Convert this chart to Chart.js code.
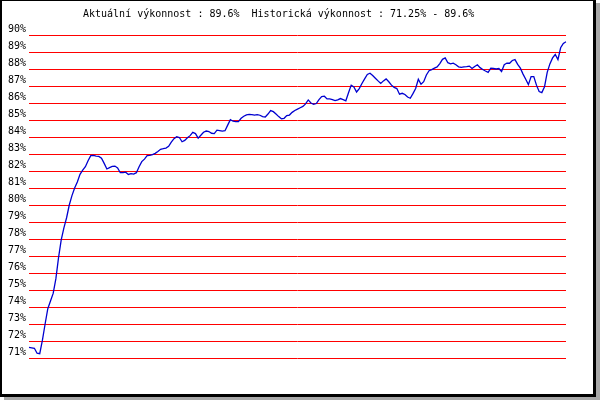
<!DOCTYPE html>
<html>
<head>
<meta charset="utf-8">
<script src="https://cdn.jsdelivr.net/npm/chart.js@4.4.1/dist/chart.umd.min.js"></script>
<style>
  html, body { margin: 0; padding: 0; background: #fff; }
  #wrap { position: relative; width: 600px; height: 400px; overflow: hidden; }
  #frame {
    position: absolute; left: 0; top: 0;
    width: 596px; height: 397px; box-sizing: border-box;
    border-style: solid; border-color: #000;
    border-width: 1px 3px 3px 2px;
    background: #fff;
    box-shadow: 4px 3px 0 #a8a8a8;
  }
  #chart { position: absolute; left: 0; top: 0; }
</style>
</head>
<body>
<div id="wrap">
  <div id="frame"></div>
  <canvas id="chart" width="600" height="400"></canvas>
</div>
<script>
// performance values in %, one per period
var performance = [
  71.63, 71.6, 71.57, 71.28, 71.25, 72.05, 73.0, 73.9, 74.35, 74.8,
  75.65, 76.9, 77.95, 78.65, 79.25, 80.0, 80.55, 81.0, 81.35, 81.8,
  82.05, 82.25, 82.6, 82.9, 82.92, 82.88, 82.86, 82.75, 82.45, 82.12,
  82.2, 82.27, 82.29, 82.18, 81.9, 81.9, 81.93, 81.8, 81.85, 81.82,
  81.9, 82.25, 82.55, 82.7, 82.9, 82.92, 82.96, 83.04, 83.15, 83.28,
  83.31, 83.35, 83.45, 83.7, 83.9, 84.02, 83.97, 83.72, 83.8, 83.95,
  84.08, 84.27, 84.2, 83.93, 84.1, 84.28, 84.35, 84.32, 84.22, 84.2,
  84.4, 84.38, 84.35, 84.37, 84.7, 85.02, 84.93, 84.9, 84.9, 85.1,
  85.22, 85.3, 85.33, 85.31, 85.29, 85.32, 85.28, 85.2, 85.18, 85.35,
  85.55, 85.49, 85.35, 85.2, 85.07, 85.1, 85.26, 85.29, 85.45, 85.56,
  85.64, 85.72, 85.8, 85.95, 86.18, 86.0, 85.92, 85.97, 86.2, 86.38,
  86.4, 86.24, 86.24, 86.2, 86.14, 86.18, 86.26, 86.2, 86.13, 86.6,
  87.05, 86.95, 86.65, 86.85, 87.15, 87.42, 87.68, 87.75, 87.62, 87.46,
  87.3, 87.15, 87.3, 87.42, 87.25, 87.05, 86.92, 86.85, 86.52, 86.57,
  86.5, 86.35, 86.28, 86.55, 86.85, 87.4, 87.1, 87.25, 87.65, 87.9,
  87.96, 88.05, 88.12, 88.32, 88.57, 88.65, 88.37, 88.3, 88.34, 88.25,
  88.13, 88.1, 88.12, 88.14, 88.17, 88.03, 88.15, 88.25, 88.08, 87.97,
  87.88, 87.8, 88.05, 88.03, 88.0, 88.03, 87.85, 88.25, 88.35, 88.34,
  88.5, 88.55, 88.27, 88.05, 87.7, 87.4, 87.08, 87.55, 87.55, 87.05,
  86.67, 86.61, 86.95, 87.8, 88.3, 88.65, 88.85, 88.55, 89.25, 89.5,
  89.6
];
var periods = performance.map(function (v, i) { return i; });

var currentPerf = '89.6%';
var histMin = '71.25%';
var histMax = '89.6%';
var titleText = 'Aktuální výkonnost : ' + currentPerf + '  Historická výkonnost : ' + histMin + ' - ' + histMax;

var yMin = 71, yMax = 90;

var titlePlugin = {
  id: 'titleText',
  afterDraw: function (chart) {
    var c = chart.ctx;
    c.save();
    c.font = '10px "DejaVu Sans Mono", monospace';
    c.fillStyle = '#000';
    c.textAlign = 'left';
    c.textBaseline = 'alphabetic';
    c.fillText(titleText, 83, 17);
    c.restore();
  }
};

var ctx = document.getElementById('chart').getContext('2d');
var chart = new Chart(ctx, {
  type: 'line',
  data: {
    labels: periods,
    datasets: [{
      data: performance,
      borderColor: '#0000d0',
      borderWidth: 1.3,
      pointRadius: 0,
      tension: 0,
      fill: false
    }]
  },
  options: {
    responsive: false,
    animation: false,
    devicePixelRatio: 1,
    layout: {
      padding: { left: 0, top: 35, right: 34, bottom: 42 }
    },
    plugins: {
      legend: { display: false },
      title: { display: false },
      tooltip: { enabled: false }
    },
    scales: {
      x: {
        display: false
      },
      y: {
        min: yMin,
        max: yMax,
        afterFit: function (scale) { scale.width = 29; },
        border: { display: false },
        grid: {
          color: '#ff0000',
          lineWidth: 1,
          drawTicks: false
        },
        ticks: {
          stepSize: 1,
          padding: 3,
          labelOffset: -6,
          color: '#000',
          font: { family: '"DejaVu Sans Mono", monospace', size: 10 },
          callback: function (v) { return v + '%'; }
        }
      }
    }
  },
  plugins: [titlePlugin]
});
</script>
</body>
</html>
